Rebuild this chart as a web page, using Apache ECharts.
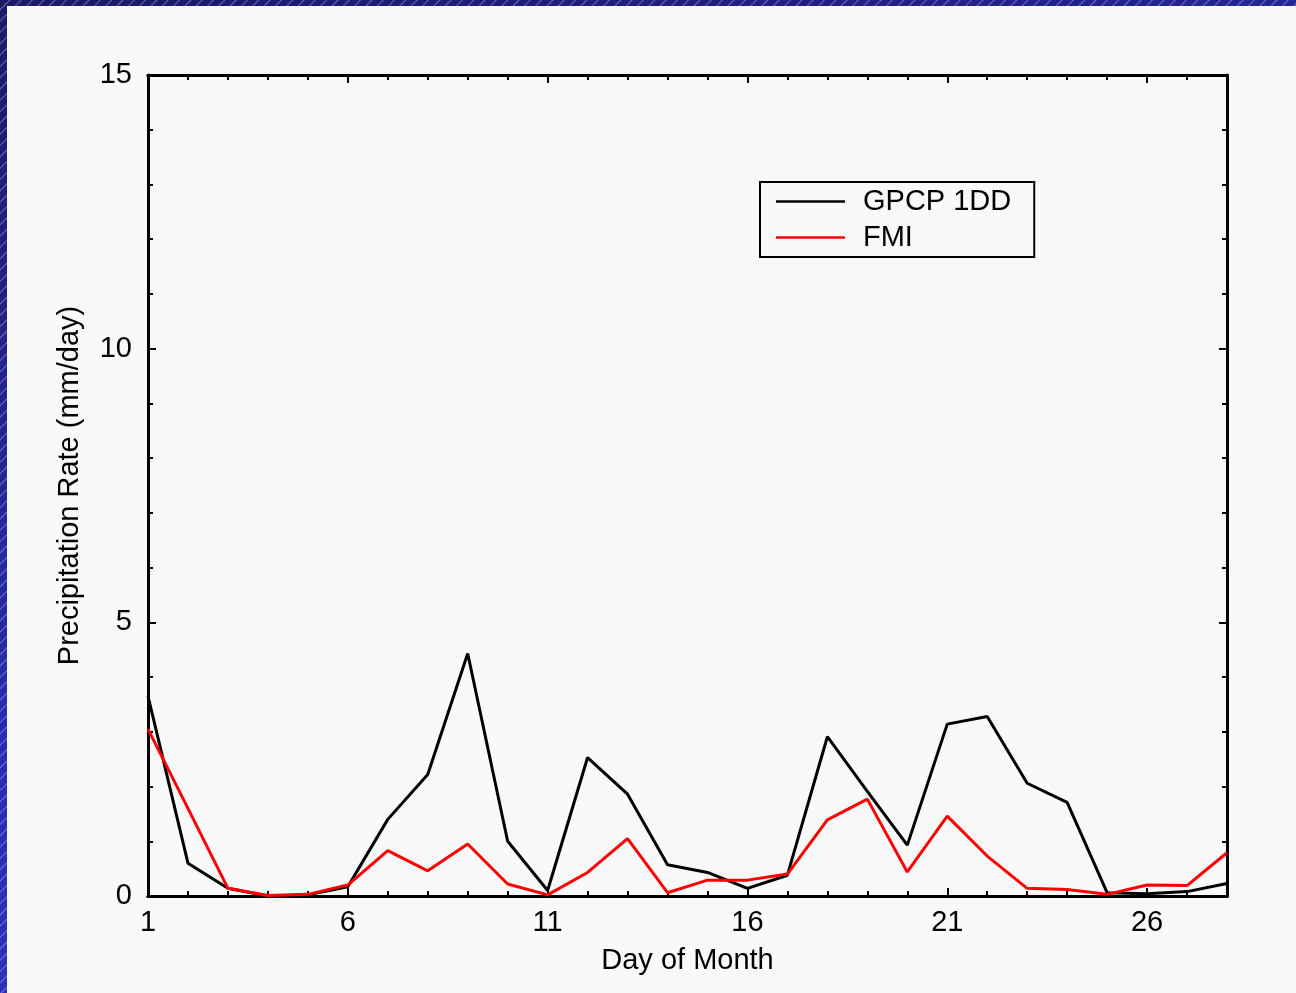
<!DOCTYPE html>
<html>
<head>
<meta charset="utf-8">
<style>
  html, body { margin: 0; padding: 0; }
  body {
    width: 1296px;
    height: 993px;
    overflow: hidden;
    position: relative;
    background:
      repeating-linear-gradient(135deg, rgba(255,255,255,0) 0px, rgba(255,255,255,0) 6px, rgba(200,200,255,0.45) 7px, rgba(255,255,255,0) 8px),
      linear-gradient(160deg, #1a1a66 0%, #2a2ab0 50%, #3636d0 100%);
  }
  #panel {
    position: absolute;
    left: 7px; top: 6px; right: 0; bottom: 0;
    background: #f9f9f9;
  }
  #chart {
    position: absolute;
    left: 0; top: 0;
    width: 1296px;
    height: 993px;
  }
</style>
<script src="https://cdn.jsdelivr.net/npm/echarts@6.0.0/dist/echarts.min.js"></script>
</head>
<body>
<div id="panel"></div>
<div id="chart"></div>
<script>
// data
const days = [1, 2, 3, 4, 5, 6, 7, 8, 9, 10, 11, 12, 13, 14, 15, 16, 17, 18, 19, 20, 21, 22, 23, 24, 25, 26, 27, 28];
const gpcp = [3.65, 0.60, 0.14, 0.00, 0.02, 0.17, 1.40, 2.22, 4.43, 1.00, 0.10, 2.53, 1.86, 0.57, 0.43, 0.14, 0.38, 2.91, 1.91, 0.93, 3.14, 3.28, 2.06, 1.71, 0.06, 0.04, 0.08, 0.23];
const fmi = [3.05, 1.60, 0.14, 0.01, 0.03, 0.20, 0.83, 0.46, 0.95, 0.22, 0.02, 0.43, 1.05, 0.06, 0.29, 0.29, 0.40, 1.39, 1.77, 0.44, 1.46, 0.73, 0.14, 0.12, 0.03, 0.20, 0.19, 0.79];
const seriesNames = ['GPCP 1DD', 'FMI'];

const FONT = '"Liberation Sans", Arial, sans-serif';
const FS = 29;

const chart = echarts.init(document.getElementById('chart'), null, { renderer: 'canvas' });

const tickStyle = { color: '#000', width: 2 };

// builds an x axis (major or minor ticks only)
const xAx = (position, interval, len, labels) => ({
  type: 'value',
  position: position,
  min: 1,
  max: 28,
  interval: interval,
  axisLine: { show: true, lineStyle: { color: '#000', width: 3 } },
  axisTick: { show: true, inside: true, length: len, lineStyle: tickStyle },
  axisLabel: {
    show: labels,
    margin: 12,
    color: '#000',
    fontFamily: FONT,
    fontSize: FS,
    showMaxLabel: false,
  },
  splitLine: { show: false },
  name: labels ? 'Day of Month' : '',
  nameLocation: 'middle',
  nameGap: 50,
  nameTextStyle: { color: '#000', fontFamily: FONT, fontSize: FS },
});

const yAx = (position, labels) => ({
  type: 'value',
  position: position,
  min: 0,
  max: 15,
  interval: 5,
  axisLine: { show: true, lineStyle: { color: '#000', width: 3 } },
  axisTick: { show: true, inside: true, length: 8, lineStyle: tickStyle },
  minorTick: { show: true, splitNumber: 5, length: 5, lineStyle: tickStyle },
  axisLabel: {
    show: labels,
    margin: 16,
    color: '#000',
    fontFamily: FONT,
    fontSize: FS,
  },
  splitLine: { show: false },
  minorSplitLine: { show: false },
  name: labels ? 'Precipitation Rate (mm/day)' : '',
  nameLocation: 'middle',
  nameGap: 64,
  nameTextStyle: { color: '#000', fontFamily: FONT, fontSize: FS },
});

const option = {
  animation: false,
  backgroundColor: 'transparent',
  grid: { left: 148, right: 69, top: 75, bottom: 97, containLabel: false },
  xAxis: [
    xAx('bottom', 5, 8, true),
    xAx('bottom', 1, 5, false),
    xAx('top', 5, 8, false),
    xAx('top', 1, 5, false),
  ],
  yAxis: [yAx('left', true), yAx('right', false)],
  legend: {
    left: 760,
    top: 182,
    orient: 'vertical',
    data: seriesNames,
    icon: 'rect',
    borderColor: '#000',
    borderWidth: 2,
    borderRadius: 0,
    padding: [5, 23, 5, 16],
    itemWidth: 69,
    itemHeight: 2.5,
    itemGap: 7,
    textStyle: { color: '#000', fontFamily: FONT, fontSize: FS, padding: [0, 0, 0, 13] },
  },
  series: [
    {
      name: seriesNames[0],
      type: 'line',
      xAxisIndex: 0,
      yAxisIndex: 0,
      symbol: 'none',
      lineStyle: { color: '#000', width: 3 },
      itemStyle: { color: '#000' },
      data: days.map((d, i) => [d, gpcp[i]]),
      z: 3,
    },
    {
      name: seriesNames[1],
      type: 'line',
      xAxisIndex: 0,
      yAxisIndex: 0,
      symbol: 'none',
      lineStyle: { color: '#ff0000', width: 3 },
      itemStyle: { color: '#ff0000' },
      data: days.map((d, i) => [d, fmi[i]]),
      z: 4,
    },
  ],
};
chart.setOption(option);
</script>
</body>
</html>
